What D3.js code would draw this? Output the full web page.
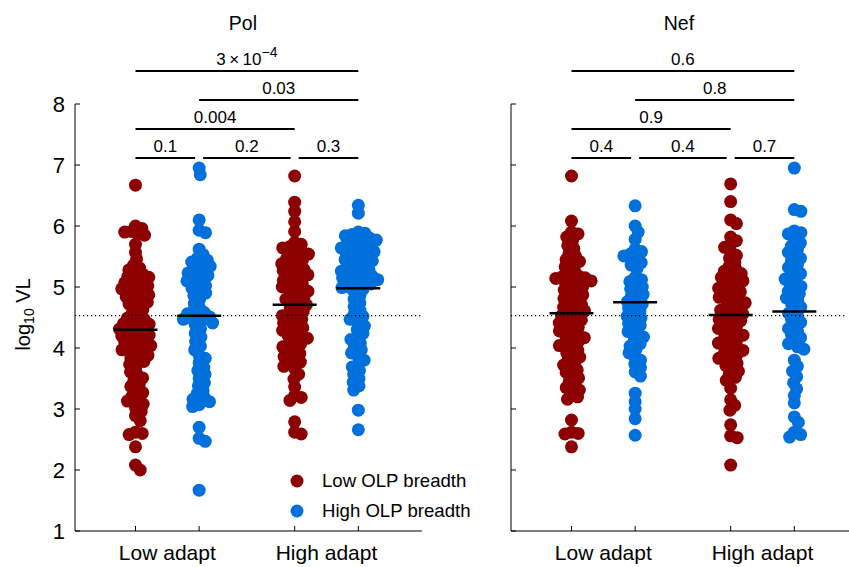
<!DOCTYPE html>
<html>
<head>
<meta charset="utf-8">
<script src="https://cdn.jsdelivr.net/npm/d3@7"></script>
<style>
  body { margin: 0; background: #fff; }
  svg { font-family: "Liberation Sans", Arial, sans-serif; display: block; }
</style>
</head>
<body>
<div id="chart"></div>
<script>
// ---- data -----------------------------------------------------------------
const panelTitles = ["Pol", "Nef"];
const adaptLabels = ["Low adapt", "High adapt"];
const breadthLabels = ["Low OLP breadth", "High OLP breadth"];
const groupPos = [1, 2, 3.5, 4.5];          // low/low, low/high, high/low, high/high
const yTicks = [1, 2, 3, 4, 5, 6, 7, 8];
const refLine = 4.53;

const polMeans = [4.30, 4.53, 4.71, 4.98];
const nefMeans = [4.57, 4.75, 4.54, 4.60];
const polP = ["0.1", "0.2", "0.3", "0.004", "0.03", "3×10^-4"];
const nefP = ["0.4", "0.4", "0.7", "0.9", "0.8", "0.6"];

const polLowAdaptLow = [6.67, 6.00, 5.96, 5.91, 5.90, 5.87, 5.85, 5.70, 5.57, 5.46, 5.36,
  5.31, 5.28, 5.23, 5.21, 5.17, 5.16, 5.12, 5.09, 5.07, 5.04, 5.02, 4.99, 4.97, 4.93, 4.92,
  4.88, 4.87, 4.84, 4.81, 4.77, 4.75, 4.72, 4.66, 4.63, 4.57, 4.53, 4.49, 4.47, 4.44, 4.40,
  4.39, 4.36, 4.33, 4.31, 4.30, 4.27, 4.23, 4.21, 4.20, 4.17, 4.13, 4.11, 4.10, 4.06, 4.04,
  4.01, 3.98, 3.97, 3.93, 3.89, 3.88, 3.84, 3.80, 3.78, 3.73, 3.68, 3.61, 3.57, 3.51, 3.47,
  3.40, 3.37, 3.30, 3.27, 3.21, 3.15, 3.13, 3.08, 3.02, 2.96, 2.89, 2.81, 2.62, 2.60, 2.58,
  2.38, 2.08, 2.00];
const polLowAdaptHigh = [6.95, 6.84, 6.10, 5.93, 5.89, 5.62, 5.53, 5.47, 5.44, 5.41, 5.36,
  5.34, 5.30, 5.28, 5.23, 5.21, 5.19, 5.14, 5.12, 5.10, 5.05, 5.02, 4.98, 4.93, 4.90, 4.86,
  4.80, 4.73, 4.66, 4.61, 4.58, 4.56, 4.53, 4.51, 4.48, 4.47, 4.43, 4.41, 4.38, 4.31, 4.24,
  4.18, 4.11, 4.03, 3.97, 3.88, 3.83, 3.76, 3.68, 3.63, 3.57, 3.50, 3.43, 3.38, 3.30, 3.25,
  3.19, 3.16, 3.12, 3.07, 3.04, 2.70, 2.52, 2.47, 1.67];
const polHighAdaptLow = [6.82, 6.39, 6.24, 6.07, 5.91, 5.73, 5.70, 5.66, 5.64, 5.62, 5.58,
  5.55, 5.54, 5.50, 5.46, 5.45, 5.41, 5.38, 5.36, 5.31, 5.29, 5.27, 5.22, 5.20, 5.18, 5.14,
  5.11, 5.09, 5.05, 5.03, 5.00, 4.97, 4.94, 4.93, 4.88, 4.85, 4.82, 4.80, 4.76, 4.73, 4.71,
  4.66, 4.62, 4.60, 4.55, 4.53, 4.50, 4.47, 4.42, 4.41, 4.38, 4.33, 4.31, 4.29, 4.25, 4.20,
  4.19, 4.16, 4.12, 4.07, 4.05, 4.02, 3.99, 3.93, 3.91, 3.86, 3.83, 3.77, 3.75, 3.70, 3.66,
  3.57, 3.49, 3.36, 3.22, 3.19, 3.14, 2.79, 2.62, 2.59];
const polHighAdaptHigh = [6.34, 6.21, 5.90, 5.88, 5.86, 5.84, 5.80, 5.79, 5.77, 5.75, 5.72,
  5.70, 5.68, 5.66, 5.64, 5.61, 5.60, 5.58, 5.56, 5.52, 5.50, 5.47, 5.45, 5.43, 5.41, 5.38,
  5.35, 5.32, 5.30, 5.28, 5.26, 5.24, 5.21, 5.20, 5.18, 5.15, 5.13, 5.12, 5.10, 5.07, 5.05,
  5.02, 5.00, 4.99, 4.96, 4.92, 4.86, 4.80, 4.74, 4.68, 4.62, 4.56, 4.52, 4.47, 4.41, 4.36,
  4.30, 4.24, 4.18, 4.14, 4.08, 4.02, 3.97, 3.92, 3.86, 3.80, 3.74, 3.69, 3.63, 3.57, 3.50,
  3.44, 3.38, 3.31, 2.98, 2.66];
const nefLowAdaptLow = [6.82, 6.08, 5.90, 5.87, 5.82, 5.76, 5.68, 5.63, 5.55, 5.51, 5.45,
  5.42, 5.37, 5.33, 5.27, 5.22, 5.18, 5.17, 5.15, 5.14, 5.12, 5.10, 5.07, 5.04, 5.00, 4.97,
  4.95, 4.90, 4.87, 4.84, 4.81, 4.77, 4.73, 4.71, 4.67, 4.64, 4.61, 4.58, 4.55, 4.53, 4.49,
  4.46, 4.43, 4.41, 4.37, 4.34, 4.31, 4.28, 4.25, 4.22, 4.19, 4.17, 4.13, 4.10, 4.07, 4.04,
  4.00, 3.96, 3.92, 3.88, 3.85, 3.80, 3.77, 3.72, 3.68, 3.64, 3.60, 3.55, 3.51, 3.45, 3.40,
  3.35, 3.31, 3.25, 3.20, 3.16, 2.82, 2.62, 2.60, 2.59, 2.38];
const nefLowAdaptHigh = [6.33, 6.00, 5.90, 5.78, 5.62, 5.58, 5.54, 5.51, 5.45, 5.40, 5.36,
  5.30, 5.16, 5.12, 5.09, 5.04, 5.00, 4.97, 4.92, 4.88, 4.85, 4.80, 4.76, 4.72, 4.68, 4.65,
  4.60, 4.56, 4.52, 4.49, 4.44, 4.40, 4.37, 4.32, 4.27, 4.22, 4.18, 4.12, 4.07, 4.03, 3.97,
  3.92, 3.86, 3.80, 3.74, 3.68, 3.61, 3.54, 3.26, 3.12, 3.00, 2.84, 2.57];
const nefHighAdaptLow = [6.69, 6.40, 6.10, 6.04, 5.82, 5.76, 5.70, 5.65, 5.58, 5.52, 5.47,
  5.40, 5.34, 5.29, 5.26, 5.22, 5.19, 5.16, 5.13, 5.10, 5.07, 5.05, 5.01, 4.98, 4.95, 4.92,
  4.90, 4.86, 4.83, 4.80, 4.77, 4.74, 4.71, 4.68, 4.66, 4.62, 4.59, 4.56, 4.53, 4.50, 4.47,
  4.45, 4.41, 4.38, 4.35, 4.32, 4.29, 4.26, 4.23, 4.21, 4.17, 4.14, 4.11, 4.08, 4.05, 4.02,
  3.99, 3.96, 3.93, 3.90, 3.87, 3.83, 3.79, 3.75, 3.71, 3.67, 3.62, 3.57, 3.52, 3.47, 3.34,
  3.15, 3.06, 2.98, 2.74, 2.56, 2.53, 2.08];
const nefHighAdaptHigh = [6.95, 6.27, 6.24, 5.92, 5.89, 5.87, 5.77, 5.72, 5.67, 5.62, 5.57,
  5.52, 5.47, 5.42, 5.37, 5.32, 5.27, 5.22, 5.17, 5.13, 5.09, 5.05, 5.01, 4.97, 4.93, 4.89,
  4.85, 4.82, 4.77, 4.72, 4.67, 4.62, 4.57, 4.52, 4.47, 4.42, 4.37, 4.32, 4.27, 4.22, 4.17,
  4.12, 4.07, 4.02, 3.98, 3.80, 3.70, 3.62, 3.53, 3.43, 3.33, 3.22, 3.10, 2.87, 2.78, 2.62,
  2.58, 2.54];

// ---- layout -----------------------------------------------------------------
const W = 849, H = 567;
const colors = ["#8c0000", "#0070dc"];
const dotR = 6.5;
const swarmGap = 6.8;   // minimum centre distance used by the swarm (dots overlap)

const svg = d3.select("#chart").append("svg")
  .attr("width", W).attr("height", H);

const y = d3.scaleLinear().domain([1, 8]).range([531, 104]);

const panels = [
  { title: panelTitles[0], x0: 75, groups: [polLowAdaptLow, polLowAdaptHigh, polHighAdaptLow, polHighAdaptHigh],
    means: polMeans, p: polP, labels: true },
  { title: panelTitles[1], x0: 511, groups: [nefLowAdaptLow, nefLowAdaptHigh, nefHighAdaptLow, nefHighAdaptHigh],
    means: nefMeans, p: nefP, labels: false }
];

// pairs for brackets, and the row each sits on (0 = lowest)
const pairs = [[0, 1], [1, 2], [2, 3], [0, 2], [1, 3], [0, 3]];
const rows = [0, 0, 0, 1, 2, 3];
const rowY = [158, 129, 100, 71];

// simple beeswarm: place points nearest the centre without getting closer than swarmGap
function swarm(values) {
  const pts = values.map(v => ({ v, py: y(v), dx: 0 }))
    .sort((a, b) => a.py - b.py);
  const placed = [];
  pts.forEach(p => {
    const near = placed.filter(q => Math.abs(q.py - p.py) < swarmGap);
    const cands = [0];
    near.forEach(q => {
      const h = Math.sqrt(swarmGap * swarmGap - (q.py - p.py) ** 2);
      cands.push(q.dx + h, q.dx - h);
    });
    cands.sort((a, b) => Math.abs(a) - Math.abs(b));
    for (const c of cands) {
      const ok = near.every(q => (q.dx - c) ** 2 + (q.py - p.py) ** 2 >= swarmGap * swarmGap - 1e-6);
      if (ok) { p.dx = c; break; }
    }
    placed.push(p);
  });
  return placed;
}

panels.forEach(pn => {
  const x = d3.scaleLinear().domain([0.05, 5.5]).range([pn.x0, pn.x0 + 347]);
  const g = svg.append("g");

  // axes
  g.append("line").attr("x1", pn.x0).attr("x2", pn.x0)
    .attr("y1", y(1)).attr("y2", y(8)).attr("stroke", "#000").attr("stroke-width", 1);
  g.append("line").attr("x1", pn.x0).attr("x2", pn.x0 + 347)
    .attr("y1", y(1)).attr("y2", y(1)).attr("stroke", "#000").attr("stroke-width", 1);
  yTicks.forEach(t => {
    g.append("line").attr("x1", pn.x0).attr("x2", pn.x0 + 5)
      .attr("y1", y(t)).attr("y2", y(t)).attr("stroke", "#000");
    if (pn.labels) {
      g.append("text").attr("x", pn.x0 - 10).attr("y", y(t) + 8)
        .attr("text-anchor", "end").attr("font-size", 22).text(t);
    }
  });
  groupPos.forEach(gp => {
    g.append("line").attr("x1", x(gp)).attr("x2", x(gp))
      .attr("y1", y(1)).attr("y2", y(1) - 5).attr("stroke", "#000");
  });
  adaptLabels.forEach((lab, i) => {
    g.append("text").attr("x", (x(groupPos[2 * i]) + x(groupPos[2 * i + 1])) / 2)
      .attr("y", 560).attr("text-anchor", "middle").attr("font-size", 21).text(lab);
  });

  // points
  pn.groups.forEach((vals, gi) => {
    const pts = swarm(vals);
    g.append("g").selectAll("circle").data(pts).join("circle")
      .attr("cx", d => x(groupPos[gi]) + d.dx)
      .attr("cy", d => d.py)
      .attr("r", dotR)
      .attr("fill", colors[gi % 2]);
  });

  // reference line
  g.append("line").attr("x1", pn.x0).attr("x2", Math.min(pn.x0 + 347, W - 2))
    .attr("y1", y(refLine)).attr("y2", y(refLine))
    .attr("stroke", "#000").attr("stroke-width", 1.2).attr("stroke-dasharray", "1.2,2.8");

  // means
  pn.means.forEach((m, gi) => {
    g.append("line").attr("x1", x(groupPos[gi]) - 22).attr("x2", x(groupPos[gi]) + 22)
      .attr("y1", y(m)).attr("y2", y(m)).attr("stroke", "#000").attr("stroke-width", 2.5);
  });

  // brackets
  pairs.forEach(([a, b], k) => {
    let xa = x(groupPos[a]), xb = x(groupPos[b]);
    if (rows[k] === 0) {
      if (a > 0) xa += 4;
      if (b < 3) xb -= 4;
    }
    const yy = rowY[rows[k]];
    g.append("line").attr("x1", xa).attr("x2", xb).attr("y1", yy).attr("y2", yy)
      .attr("stroke", "#000").attr("stroke-width", 2);
    const txt = g.append("text").attr("x", (xa + xb) / 2).attr("y", yy - 6)
      .attr("text-anchor", "middle").attr("font-size", 17);
    const lab = pn.p[k];
    if (lab.includes("^")) {
      const [base, exp] = lab.split("^");
      txt.append("tspan").text(base.replace("×", "\u2009×\u2009"));
      txt.append("tspan").attr("dy", -8).attr("font-size", 14).text(exp.replace("-", "\u2212"));
    } else {
      txt.text(lab);
    }
  });

  // title
  g.append("text").attr("x", (x(groupPos[0]) + x(groupPos[3])) / 2 - 4).attr("y", 30)
    .attr("text-anchor", "middle").attr("font-size", 19.5).text(pn.title);
});

// y label
const yl = svg.append("text").attr("transform", `translate(30,${y(4.55)}) rotate(-90)`)
  .attr("text-anchor", "middle").attr("font-size", 20);
yl.append("tspan").text("log");
yl.append("tspan").attr("font-size", 14).attr("dy", 4).text("10");
yl.append("tspan").attr("dy", -4).text(" VL");

// legend
breadthLabels.forEach((lab, i) => {
  svg.append("circle").attr("cx", 297).attr("cy", 481 + i * 30).attr("r", dotR).attr("fill", colors[i]);
  svg.append("text").attr("x", 322).attr("y", 487 + i * 30).attr("font-size", 18.6).text(lab);
});
</script>
</body>
</html>
